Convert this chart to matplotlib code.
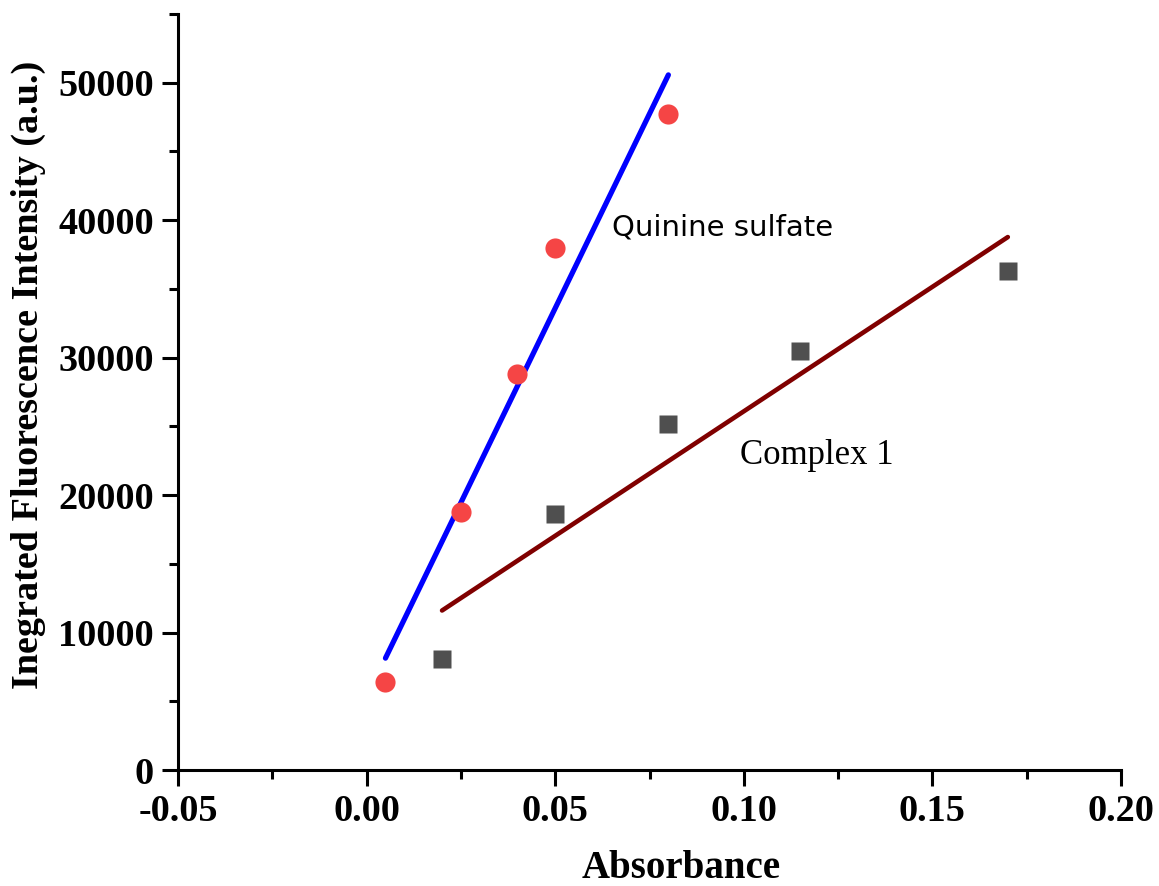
import matplotlib
matplotlib.use("Agg")
import matplotlib.pyplot as plt
from matplotlib.ticker import MultipleLocator
import numpy as np

# Data
quinine_abs = [0.005, 0.025, 0.040, 0.050, 0.080]
quinine_int = [6400, 18800, 28800, 38000, 47700]
complex_abs = [0.020, 0.050, 0.080, 0.115, 0.170]
complex_int = [8100, 18600, 25200, 30500, 36300]

serif = "Liberation Serif"

fig = plt.figure(figsize=(11.59, 8.86), dpi=100)
ax = fig.add_axes([0.1536, 0.1309, 0.8136, 0.8533])

# linear fits through each series
for xs, ys, col, lw in [(quinine_abs, quinine_int, "#0000ff", 3.8),
                        (complex_abs, complex_int, "#800000", 3.3)]:
    k, b = np.polyfit(xs, ys, 1)
    xx = np.array([min(xs), max(xs)])
    ax.plot(xx, k * xx + b, color=col, lw=lw, solid_capstyle="round", zorder=2)

ax.plot(quinine_abs, quinine_int, "o", ms=14.5, color="#f54545", mec="none", zorder=3)
ax.plot(complex_abs, complex_int, "s", ms=13, color="#4f4f4f", mec="none", zorder=3)

ax.text(0.065, 39500, "Quinine sulfate", fontsize=21, family="DejaVu Sans",
        va="center", ha="left")
ax.text(0.0990, 22850, "Complex 1", fontsize=25, family=serif, va="center", ha="left")

ax.set_xlim(-0.05, 0.20)
ax.set_ylim(0, 55000)
ax.xaxis.set_major_locator(MultipleLocator(0.05))
ax.xaxis.set_minor_locator(MultipleLocator(0.025))
ax.yaxis.set_major_locator(MultipleLocator(10000))
ax.yaxis.set_minor_locator(MultipleLocator(5000))
ax.xaxis.set_major_formatter(plt.FuncFormatter(lambda v, p: f"{v:.2f}"))
ax.yaxis.set_major_formatter(plt.FuncFormatter(lambda v, p: f"{v:.0f}"))

for s in ["top", "right"]:
    ax.spines[s].set_visible(False)
for s in ["left", "bottom"]:
    ax.spines[s].set_linewidth(2.2)

ax.tick_params(which="major", direction="out", length=11.5, width=2.2, pad=6)
ax.tick_params(which="minor", direction="out", length=6.5, width=2.2)
for lbl in ax.get_xticklabels() + ax.get_yticklabels():
    lbl.set_fontfamily(serif)
    lbl.set_fontweight("bold")
    lbl.set_fontsize(27.5)

# axis titles placed as figure text (the x title sits right of centre in the original)
fig.text(0.5876, 0.0203, "Absorbance", fontsize=28, fontweight="bold",
         family=serif, ha="center", va="center")
fig.text(0.0242, 0.5767, "Inegrated Fluorescence Intensity (a.u.)", fontsize=27.5,
         fontweight="bold", family=serif, ha="center", va="center", rotation=90)

fig.savefig("out.png", dpi=100)
